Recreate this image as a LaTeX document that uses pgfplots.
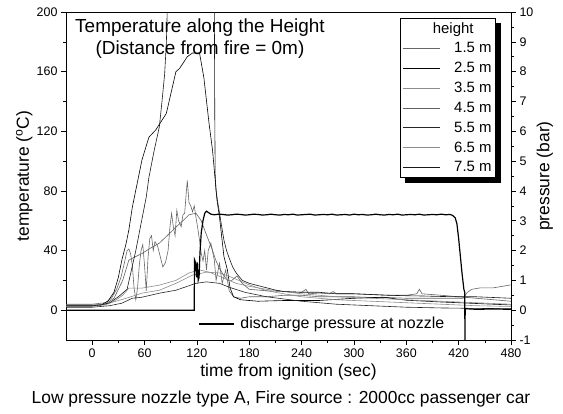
\documentclass[border=0pt]{standalone}
\usepackage{pgfplots}
\pgfplotsset{compat=1.18}
\usepackage{fontspec}
\setmainfont{Liberation Sans}

\pgfplotstableread{
t T
-30 4
0 4
15 5
22 8
28 14
33 22
37 32
40 40
42 41
44 38
46 30
48 15
50 7
52 15
54 30
56 40
58 44
60 30
62 13
64 35
66 48
68 50
70 40
72 46
75 43
78 36
81 29
84 32
87 40
89 55
91 65
93 56
95 50
97 67
99 60
102 56
104 64
106 65
108 80
109 87
111 72
113 70
115 66
117 70
119 62
121 55
123 47
125 38
127 33
129 40
131 27
133 40
136 45
140 33.6
142 20
146 31.5
149 18
153 27
157 13
162 9
170 8
180 9
200 9
220 10
240 10
260 9
280 9
300 9
320 8.5
340 8.5
360 8
380 8
400 8
420 8
425 8
430 12
435 14
445 15
460 15
470 16
480 17
}\hA

\pgfplotstableread{
t T
-30 3
0 3
10 3.5
18 6
25 12
30 22
34 33.6
39 45
42 53.7
46 69
50 80.5
54 92
57 100.7
65 116
73 121
85 132
96 160
100 162
109 170
115 172.5
123 172.5
128 156
134 125
138 107
143 74
146 62
151 36
155 27
158 15
162 9
170 7
190 6
220 6.5
260 6.5
300 8
333 8.7
360 6.7
400 5.5
440 4.5
480 3.5
}\hB

\pgfplotstableread{
t T
-30 2.5
0 2.5
19.5 4.7
39 8
57 11.4
77 13.4
96 18
115 23.5
131 25.5
146 25
160 22
180 17
200 13
240 9
280 7
320 6
360 5
400 4
440 3
480 2.5
}\hC

\pgfplotstableread{
t T
-30 3.5
0 3.5
15 4
25 8
35 20
42 33.6
50 36
57 38
65 41
77 45
86 50
96 55.7
104 60
111 64
119 65
125 60
130 52
134 46
138 40
142 33
146 28
150 24
155 20
160 20
166 23
172 18
180 14
200 13
220 12.5
240 12
245 14
248 11
260 11.5
272 11
276 12.5
280 11
300 11
320 10.5
340 10
360 10
372 11
375 14
378 11
400 10
420 9
440 8
460 7
480 6
}\hD

\pgfplotstableread{
t T
-30 2
0 2
20 3
34 4.7
46 8
57 8.7
77 11.4
96 13.4
119 18
131 19
146 18
157 15.4
175 12
200 9
240 6
280 4
320 3
360 2
400 1.5
440 1.2
480 1
}\hE

\pgfplotstableread{
t T
-30 3
0 3
15 3.5
25 6
35 10
42 14.8
57 14.8
77 16.8
96 20
111 25
123 27
134 25.5
149 22
165 18
180 16
200 14
240 11
280 9
320 8
360 7
400 6
440 5
480 4
}\hF

\pgfplotstableread{
t T
-30 3
0 3
10 3.5
20 5
30 9
40 14
45 27
50 40
54 52
62 76
65 89
69 101
71 107
77 123
80 140
83 158
85 179
86 200
88 230
138 230
140 205
140.5 130
141 90
142 80
144 72
146 65
149 54
151 47
154 40
157 35
161 29
165 25
172 20
180 18
190 16.5
200 15
210 13.5
220 12.5
240 12
260 12
280 11
300 11
320 10.5
340 10
360 9.7
380 9.5
400 9.2
420 9
440 9
460 8.5
480 8
}\hG

\pgfplotstableread{
t P
-30 0
117 0
117.2 1.7
118.5 1.6
119.5 1.1
120.5 1.6
121.5 1.0
122.5 1.1
123.5 1.9
125 2.6
127 3.0
129 3.25
131 3.32
133 3.28
136 3.22
140 3.2
145 3.22
150 3.21
155 3.19
160 3.2
165 3.22
170 3.21
175 3.19
180 3.2
185 3.22
190 3.21
195 3.19
200 3.2
205 3.22
210 3.2
215 3.19
220 3.21
225 3.2
230 3.22
235 3.19
240 3.2
245 3.21
250 3.22
255 3.19
260 3.2
265 3.21
270 3.2
275 3.22
280 3.19
285 3.2
290 3.21
295 3.19
300 3.22
305 3.2
310 3.21
315 3.19
320 3.2
325 3.22
330 3.2
335 3.19
340 3.21
345 3.2
350 3.22
355 3.19
360 3.2
365 3.21
370 3.2
375 3.22
380 3.19
385 3.2
390 3.21
395 3.2
400 3.22
405 3.2
410 3.21
413 3.18
416 3.1
418 2.9
420 2.4
422 1.8
424 1.2
426 0.7
427 0.6
427.2 -1.2
427.5 0.05
440 0.03
460 0.04
480 0.03
}\pres

\begin{document}
\begin{tikzpicture}[x=1bp,y=1bp]
\path[use as bounding box] (-66,-73) rectangle (497,340);
\begin{axis}[
  at={(0,0)}, anchor=south west,
  scale only axis, width=445bp, height=328bp,
  xmin=-30, xmax=480, ymin=-20, ymax=200,
  xtick={0,60,...,480}, minor x tick num=1,
  ytick={0,40,...,200}, minor y tick num=1,
  xtick pos=left, ytick pos=left,
  tick align=outside,
  major tick length=5bp, minor tick length=3bp,
  tick style={black, line width=0.6pt},
  axis line style={line width=0.8pt},
  /pgf/number format/assume math mode=true,
  tick label style={font=\fontsize{12.5}{14}\selectfont},
  xlabel={time from ignition (sec)},
  ylabel={temperature (\textsuperscript{o}C)},
  label style={font=\fontsize{17.5}{20}\selectfont},
  xlabel style={at={(axis description cs:0.5,-0.11)}, anchor=base},
  ylabel style={at={(axis description cs:-0.094,0.5)}, anchor=center},
  every axis plot/.append style={line width=0.6pt},
  legend cell align=right,
  legend image code/.code={\draw[#1] (0bp,0bp) -- (37bp,0bp);},
  legend style={name=hleg, at={(axis description cs:0.966,0.982)}, anchor=north east,
    draw=black, line width=0.6pt, fill=white,
    font=\fontsize{15}{17}\selectfont,
    row sep=4bp, column sep=12bp, inner sep=2bp},
]
\addlegendimage{empty legend}
\addlegendentry{\makebox[36bp][r]{height\hspace*{18bp}}}
\addplot[black!60, no marks] table[x=t,y=T] {\hA};
\addlegendentry{1.5 m}
\addplot[black, no marks] table[x=t,y=T] {\hB};
\addlegendentry{2.5 m}
\addplot[black!45, no marks] table[x=t,y=T] {\hC};
\addlegendentry{3.5 m}
\addplot[black!62, no marks] table[x=t,y=T] {\hD};
\addlegendentry{4.5 m}
\addplot[black!85, no marks] table[x=t,y=T] {\hE};
\addlegendentry{5.5 m}
\addplot[black!45, no marks] table[x=t,y=T] {\hF};
\addlegendentry{6.5 m}
\addplot[black!90, no marks] table[x=t,y=T] {\hG};
\addlegendentry{7.5 m}
\node[align=center, anchor=north, font=\fontsize{19}{22}\selectfont]
  at (axis description cs:0.301,0.99) {Temperature along the Height\\(Distance from fire = 0m)};
\end{axis}
\fill[black] ([xshift=0.3pt,yshift=-5bp]hleg.north east) rectangle ([xshift=5bp,yshift=-5bp]hleg.south east);
\fill[black] ([xshift=5bp,yshift=-0.3pt]hleg.south west) rectangle ([xshift=5bp,yshift=-5bp]hleg.south east);
\begin{axis}[
  at={(0,0)}, anchor=south west,
  scale only axis, width=445bp, height=328bp,
  xmin=-30, xmax=480, ymin=-1, ymax=10,
  axis y line*=right, axis x line=none,
  ytick={-1,0,...,10}, minor y tick num=1,
  tick align=outside,
  major tick length=5bp, minor tick length=3bp,
  tick style={black, line width=0.6pt},
  axis line style={line width=0.8pt},
  /pgf/number format/assume math mode=true,
  tick label style={font=\fontsize{12.5}{14}\selectfont},
  ylabel={pressure (bar)},
  label style={font=\fontsize{17.5}{20}\selectfont},
  ylabel style={at={(axis description cs:1.076,0.5)}, anchor=center},
  legend image code/.code={\draw[#1] (0bp,0bp) -- (35bp,0bp);},
  legend style={at={(axis description cs:0.29,0.049)}, anchor=west,
    draw=none, fill=none, column sep=4bp, font=\fontsize{16}{18}\selectfont},
]
\addplot[black, line width=1.2pt, no marks] table[x=t,y=P] {\pres};
\addlegendentry{discharge pressure at nozzle}
\end{axis}
\node[font=\fontsize{17.5}{20}\selectfont, anchor=base] at (215,-63) {Low pressure nozzle type A, Fire source : 2000cc passenger car};
\end{tikzpicture}
\end{document}
